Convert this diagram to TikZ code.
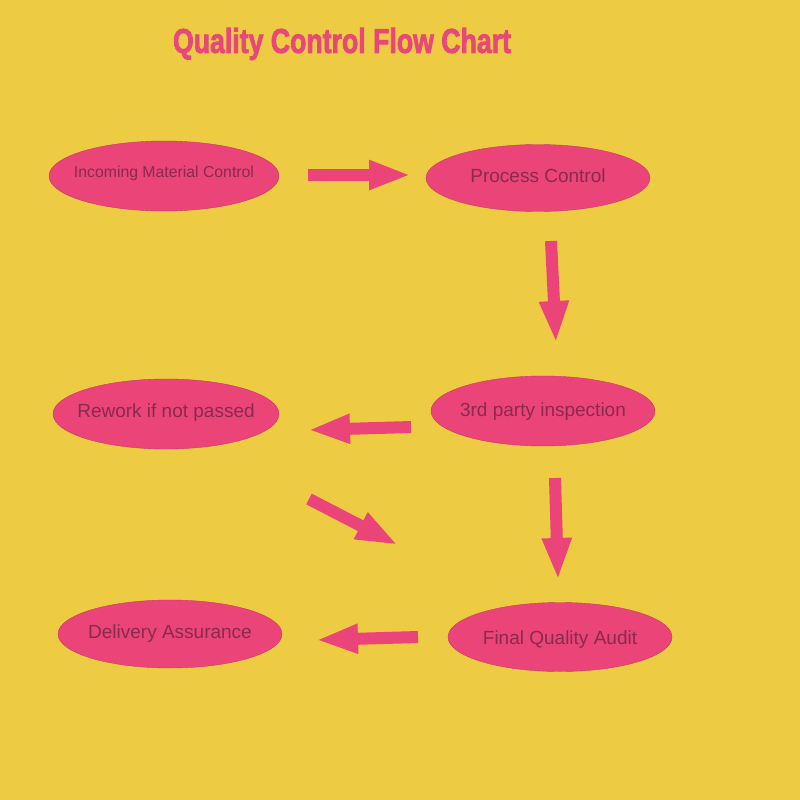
\documentclass[tikz,border=0pt]{standalone}
\usepackage{fontspec}
\setmainfont{Liberation Sans}
\newfontfamily\titlefont[FakeBold=2.5]{Liberation Sans Bold}
\usetikzlibrary{arrows.meta,shapes.geometric}
\definecolor{bg}{HTML}{EDCB42}
\definecolor{pinkfill}{HTML}{EA4479}
\definecolor{txt}{HTML}{8A2A4E}
\definecolor{titlec}{HTML}{E8477A}
\newcommand\ctext[2]{\makebox[0pt]{\raisebox{#1}[0pt][0pt]{#2}}}
\tikzset{
  stage/.style={ellipse, fill=pinkfill, draw=pinkfill!85!black, line width=0.4pt,
    minimum width=224pt, minimum height=69pt, inner sep=0pt, text=txt,
    font=\fontsize{19}{22}\selectfont},
  blockarrow/.style={line width=12pt, draw=pinkfill,
    -{Triangle[length=42pt,width=27pt,fill=pinkfill]}},
}
\begin{document}
\begin{tikzpicture}[x=1pt,y=-1pt]
\fill[bg] (0,0) rectangle (800,800);
\useasboundingbox (0,0) rectangle (800,800);

\node[text=titlec] (title) at (342,44)
  {\resizebox{338pt}{25pt}{\titlefont Quality Control Flow Chart}};

\node[stage, minimum width=230pt, minimum height=70pt, font=\fontsize{15.8}{18}\selectfont] (inc) at (164,176) {\ctext{-1pt}{Incoming Material Control}};
\node[stage, minimum height=67pt] (proc) at (538,178) {\ctext{-4pt}{Process Control}};
\node[stage, minimum width=226pt, minimum height=70pt] (rew) at (166,414) {\ctext{-3pt}{Rework if not passed}};
\node[stage, minimum height=70pt] (third) at (543,411) {\ctext{-5pt}{3rd party inspection}};
\node[stage, minimum height=68pt] (del) at (170,634) {\ctext{-4pt}{Delivery Assurance}};
\node[stage, minimum height=69pt] (fin) at (560,637) {\ctext{-7pt}{Final Quality Audit}};

\coordinate (a1s) at (308,175);
\coordinate (a1e) at (411,175);
\coordinate (a2s) at (551,241);
\coordinate (a2e) at (556,343);
\coordinate (a3s) at (411,427);
\coordinate (a3e) at (308,430);
\coordinate (a4s) at (309,499);
\coordinate (a4e) at (398,545);
\coordinate (a5s) at (555,478);
\coordinate (a5e) at (558,580);
\coordinate (a6s) at (418,637);
\coordinate (a6e) at (316,640);

\draw[blockarrow] (a1s) -- (a1e);
\draw[blockarrow] (a2s) -- (a2e);
\draw[blockarrow] (a3s) -- (a3e);
\draw[blockarrow] (a4s) -- (a4e);
\draw[blockarrow] (a5s) -- (a5e);
\draw[blockarrow] (a6s) -- (a6e);
\end{tikzpicture}
\end{document}
